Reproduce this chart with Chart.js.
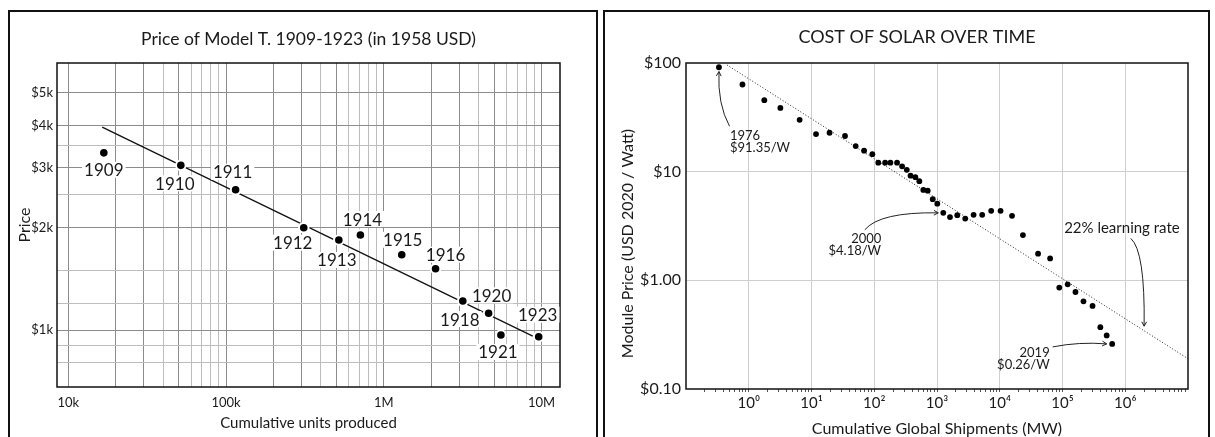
<!DOCTYPE html>
<html>
<head>
<meta charset="utf-8">
<title>Learning curves</title>
<script src="https://cdn.jsdelivr.net/npm/chart.js@4.4.1/dist/chart.umd.min.js"></script>
<style>
  html, body { margin: 0; padding: 0; background: #fff; overflow: hidden; }
  body { width: 1215px; height: 437px; position: relative; }
  .frame { position: absolute; top: 10px; height: 440px; border: 2px solid #111; border-bottom: 0; box-sizing: border-box; }
  #frameL { left: 8px; width: 590px; }
  #frameR { left: 603px; width: 607px; }
  canvas { position: absolute; top: 0; }
  #modelT { left: 0; }
  #solar { left: 600px; }
</style>
</head>
<body>
<div class="frame" id="frameL"></div>
<div class="frame" id="frameR"></div>
<canvas id="modelT" width="600" height="437"></canvas>
<canvas id="solar" width="615" height="437"></canvas>
<script>
Chart.defaults.font.family = "Lato, 'DejaVu Sans', sans-serif";
Chart.defaults.color = "#1a1a1a";

// --- Model T data ---
const modelYears = ["1909","1910","1911","1912","1913","1914","1915","1916","1918","1920","1921","1923"];
const modelUnits = [16800, 51700, 115000, 311000, 519000, 711000, 1300000, 2130000, 3170000, 4620000, 5530000, 9600000];
const modelPrice = [3320, 3050, 2585, 2000, 1840, 1903, 1665, 1515, 1217, 1120, 967, 956];
const modelTrendUnits = [16400, 8800000];
const modelTrendPrice = [3950, 960];
const modelXTicks = [10000, 100000, 1000000, 10000000];
const modelXLabels = ["10k", "100k", "1M", "10M"];
const modelYTicks = [1000, 2000, 3000, 4000, 5000];
const modelYLabels = ["$1k", "$2k", "$3k", "$4k", "$5k"];
const modelYMinor = [800, 900, 1200, 1500, 2500, 3500];

// --- Solar data (1976 - 2019) ---
const solarFirstYear = 1976;
const solarMW = [0.335, 0.794, 1.77, 3.19, 6.47, 11.8, 19.4, 34.2, 50.6, 68.9, 93.3, 116, 149, 181, 231, 278, 330, 379, 452, 523, 606, 711, 855, 1011, 1259, 1610, 2103, 2818, 3830, 5250, 7300, 10300, 15700, 23400, 40800, 63500, 88900, 121000, 161000, 216000, 301000, 401000, 506000, 619000];
const solarPrice = [91.35, 63.4, 45.5, 38.6, 30.0, 22.2, 22.8, 21.3, 17.2, 15.6, 14.5, 12.1, 12.1, 12.1, 12.1, 11.2, 10.4, 9.18, 8.89, 8.17, 6.79, 6.69, 5.58, 5.08, 4.18, 3.82, 3.98, 3.70, 4.01, 4.01, 4.36, 4.36, 3.92, 2.61, 1.76, 1.59, 0.857, 0.919, 0.781, 0.641, 0.582, 0.371, 0.311, 0.26];
const learnMW = [0.45, 10000000];
const learnPrice = [96, 0.19];
const solarYTicks = [0.1, 1, 10, 100];
const solarYLabels = ["$0.10", "$1.00", "$10", "$100"];
const sup = ["\u2070", "\u00b9", "\u00b2", "\u00b3", "\u2074", "\u2075", "\u2076"];

// log grid values 1..9 x 10^k
function logGrid(fromExp, toExp) {
  const out = [];
  for (let e = fromExp; e <= toExp; e++) {
    for (let m = 1; m <= 9; m++) out.push(Number((m * Math.pow(10, e)).toPrecision(6)));
  }
  return out;
}
const isPow10 = v => Math.abs(Math.log10(v) - Math.round(Math.log10(v))) < 1e-9;

function arrow(ctx, x0, y0, cx, cy, x1, y1) {
  ctx.beginPath();
  ctx.moveTo(x0, y0);
  ctx.quadraticCurveTo(cx, cy, x1, y1);
  ctx.stroke();
  const a = Math.atan2(y1 - cy, x1 - cx), h = 5;
  ctx.beginPath();
  ctx.moveTo(x1 - h * Math.cos(a - 0.5), y1 - h * Math.sin(a - 0.5));
  ctx.lineTo(x1, y1);
  ctx.lineTo(x1 - h * Math.cos(a + 0.5), y1 - h * Math.sin(a + 0.5));
  ctx.stroke();
}

const plotFrame = {
  id: "plotFrame",
  beforeDatasetsDraw(chart) {
    const { ctx, chartArea: a } = chart;
    ctx.save();
    ctx.strokeStyle = "#111";
    ctx.lineWidth = 1.5;
    ctx.strokeRect(a.left, a.top, a.right - a.left, a.bottom - a.top);
    ctx.restore();
  }
};

// year labels next to the Model T points
const yearLabelOffsets = [[0,17],[-6,18],[-3,-18],[-11,15],[-2,20],[2,-16],[1,-15],[10,-14],[-3,18],[3,-18],[-3,17],[-1,-22]];
const yearLabels = {
  id: "yearLabels",
  afterDatasetsDraw(chart) {
    const { ctx, scales: { x, y } } = chart;
    ctx.save();
    ctx.font = "17px Lato";
    ctx.textAlign = "center";
    ctx.textBaseline = "middle";
    modelYears.forEach((yr, i) => {
      const px = x.getPixelForValue(modelUnits[i]) + yearLabelOffsets[i][0];
      const py = y.getPixelForValue(modelPrice[i]) + yearLabelOffsets[i][1];
      const w = ctx.measureText(yr).width;
      ctx.fillStyle = "#fff";
      ctx.fillRect(px - w / 2 - 2, py - 8, w + 4, 16);
      ctx.fillStyle = "#1a1a1a";
      ctx.fillText(yr, px, py + 1);
    });
    ctx.restore();
  }
};

new Chart(document.getElementById("modelT"), {
  type: "scatter",
  data: {
    datasets: [{
      data: modelUnits.map((u, i) => ({ x: u, y: modelPrice[i] })),
      backgroundColor: "#000",
      borderColor: "#fff",
      borderWidth: 2,
      pointRadius: 4.8,
      pointHoverRadius: 4.8
    }, {
      data: modelTrendUnits.map((u, i) => ({ x: u, y: modelTrendPrice[i] })),
      showLine: true,
      borderColor: "#111",
      borderWidth: 1.3,
      pointRadius: 0
    }]
  },
  options: {
    responsive: false,
    animation: false,
    layout: { padding: { left: 10, right: 40, top: 0, bottom: 0 } },
    plugins: {
      legend: { display: false },
      tooltip: { enabled: false },
      title: {
        display: true,
        fullSize: false,
        text: "Price of Model T. 1909-1923 (in 1958 USD)",
        font: { size: 17.5, weight: "normal" },
        padding: { top: 29, bottom: 13 }
      }
    },
    scales: {
      x: {
        type: "logarithmic",
        min: 8480,
        max: 13100000,
        afterBuildTicks: s => { s.ticks = logGrid(4, 6).concat([10000000]).map(v => ({ value: v })); },
        afterFit: s => { s.height = 50; },
        ticks: {
          autoSkip: false, maxRotation: 0, padding: 8,
          font: { size: 13 },
          callback: v => { const k = modelXTicks.indexOf(v); return k >= 0 ? modelXLabels[k] : ""; }
        },
        grid: {
          drawTicks: false,
          color: c => [1, 2, 3, 5].includes(Math.round(c.tick.value / Math.pow(10, Math.floor(Math.log10(c.tick.value) + 1e-9)))) ? "#8c8c8c" : "#bdbdbd"
        },
        border: { display: false },
        title: { display: true, text: "Cumulative units produced", font: { size: 15 }, padding: { top: 0, bottom: 5 } }
      },
      y: {
        type: "logarithmic",
        min: 680,
        max: 6100,
        afterBuildTicks: s => { s.ticks = modelYTicks.concat(modelYMinor).map(v => ({ value: v })); },
        afterFit: s => { s.width = 47; },
        ticks: {
          autoSkip: false, padding: 4,
          font: { size: 13 },
          callback: v => { const k = modelYTicks.indexOf(v); return k >= 0 ? modelYLabels[k] : ""; }
        },
        grid: {
          drawTicks: false,
          color: c => modelYTicks.includes(c.tick.value) ? "#8c8c8c" : "#bdbdbd"
        },
        border: { display: false },
        title: { display: true, text: "Price", font: { size: 16 }, padding: { top: 5, bottom: 0 } }
      }
    }
  },
  plugins: [plotFrame, yearLabels]
});

// value on the learning-rate line at a given MW (log-log interpolation)
function learnAt(mw) {
  const t = (Math.log10(mw) - Math.log10(learnMW[0])) / (Math.log10(learnMW[1]) - Math.log10(learnMW[0]));
  return Math.pow(10, Math.log10(learnPrice[0]) + t * (Math.log10(learnPrice[1]) - Math.log10(learnPrice[0])));
}

const solarNotes = {
  id: "solarNotes",
  afterDatasetsDraw(chart) {
    const { ctx, scales: { x, y } } = chart;
    const pt = i => [x.getPixelForValue(solarMW[i]), y.getPixelForValue(solarPrice[i])];
    const note = i => [String(solarFirstYear + i), "$" + solarPrice[i].toFixed(2) + "/W"];
    ctx.save();
    ctx.strokeStyle = "#222";
    ctx.fillStyle = "#1a1a1a";
    ctx.lineWidth = 1;
    ctx.font = "13px Lato";
    ctx.textBaseline = "middle";

    // first year
    let [px, py] = pt(0), t = note(0);
    ctx.textAlign = "left";
    ctx.fillText(t[0], px + 11, py + 69);
    ctx.fillText(t[1], px + 11, py + 81);
    arrow(ctx, px + 10.6, py + 59, px - 1.5, py + 37, px, py + 4.3);

    // 2000
    const i2000 = 2000 - solarFirstYear;
    [px, py] = pt(i2000); t = note(i2000);
    ctx.textAlign = "center";
    ctx.fillText(t[0], px - 77, py + 26);
    ctx.fillText(t[1], px - 88.5, py + 37.7);
    arrow(ctx, px - 78.5, py + 17, px - 63.5, py - 1, px - 5, py);

    // last year
    const iLast = solarMW.length - 1;
    [px, py] = pt(iLast); t = note(iLast);
    ctx.textAlign = "right";
    ctx.fillText(t[0], px - 62.5, py + 9);
    ctx.fillText(t[1], px - 62.5, py + 20.7);
    arrow(ctx, px - 59.5, py + 3, px - 32.5, py - 2.3, px - 5.5, py);

    // learning-rate label
    const lx = x.getPixelForValue(2000000), ly = y.getPixelForValue(learnAt(2000000));
    ctx.textAlign = "left";
    ctx.font = "15px Lato";
    ctx.fillText("22% learning rate", lx - 80, ly - 102.6);
    arrow(ctx, lx - 13.3, ly - 92.3, lx + 1, ly - 79.6, lx, ly - 4.6);

    // rotated y title
    ctx.save();
    ctx.translate(27.5, 243.5);
    ctx.rotate(-Math.PI / 2);
    ctx.textAlign = "center";
    ctx.font = "16px Lato";
    ctx.fillText("Module Price (USD 2020 / Watt)", 0, 0);
    ctx.restore();

    // chart title
    ctx.textAlign = "center";
    ctx.font = "18px Lato";
    ctx.fillText("COST OF SOLAR OVER TIME", 317, 37);

    ctx.restore();
  }
};

new Chart(document.getElementById("solar"), {
  type: "scatter",
  data: {
    datasets: [{
      data: solarMW.map((m, i) => ({ x: m, y: solarPrice[i] })),
      backgroundColor: "#000",
      borderWidth: 0,
      pointRadius: 2.9,
      pointHoverRadius: 2.9
    }, {
      data: learnMW.map((m, i) => ({ x: m, y: learnPrice[i] })),
      showLine: true,
      borderColor: "#222",
      borderWidth: 1,
      borderDash: [1, 2],
      pointRadius: 0
    }]
  },
  options: {
    responsive: false,
    animation: false,
    layout: { padding: { left: 10, right: 27, top: 63, bottom: 0 } },
    plugins: {
      legend: { display: false },
      tooltip: { enabled: false },
      title: { display: false }
    },
    scales: {
      x: {
        type: "logarithmic",
        min: 0.1,
        max: 10000000,
        afterBuildTicks: s => { s.ticks = logGrid(-1, 6).filter(v => v > 0.1).map(v => ({ value: v })); },
        afterFit: s => { s.height = 48; },
        ticks: {
          autoSkip: false, maxRotation: 0, padding: 2,
          font: { size: 15 },
          callback: v => isPow10(v) && v >= 1 ? "10" + sup[Math.round(Math.log10(v))] : ""
        },
        grid: {
          drawTicks: true,
          tickLength: 3,
          tickColor: "#555",
          color: c => isPow10(c.tick.value) && c.tick.value >= 1 ? "#cfcfcf" : "rgba(0,0,0,0)"
        },
        border: { display: false },
        title: {
          display: true, text: "Cumulative Global Shipments (MW)",
          font: { size: 16, lineHeight: 1 }, padding: { top: 0, bottom: 0 }
        }
      },
      y: {
        type: "logarithmic",
        min: 0.1,
        max: 100,
        afterBuildTicks: s => { s.ticks = solarYTicks.map(v => ({ value: v })); },
        afterFit: s => { s.width = 76; },
        ticks: {
          autoSkip: false, padding: 5,
          font: { size: 16 },
          callback: v => { const k = solarYTicks.indexOf(v); return k >= 0 ? solarYLabels[k] : ""; }
        },
        grid: {
          drawTicks: false,
          color: c => (c.tick.value === 1 || c.tick.value === 10) ? "#cfcfcf" : "rgba(0,0,0,0)"
        },
        border: { display: false }
      }
    }
  },
  plugins: [plotFrame, solarNotes]
});
</script>
</body>
</html>
